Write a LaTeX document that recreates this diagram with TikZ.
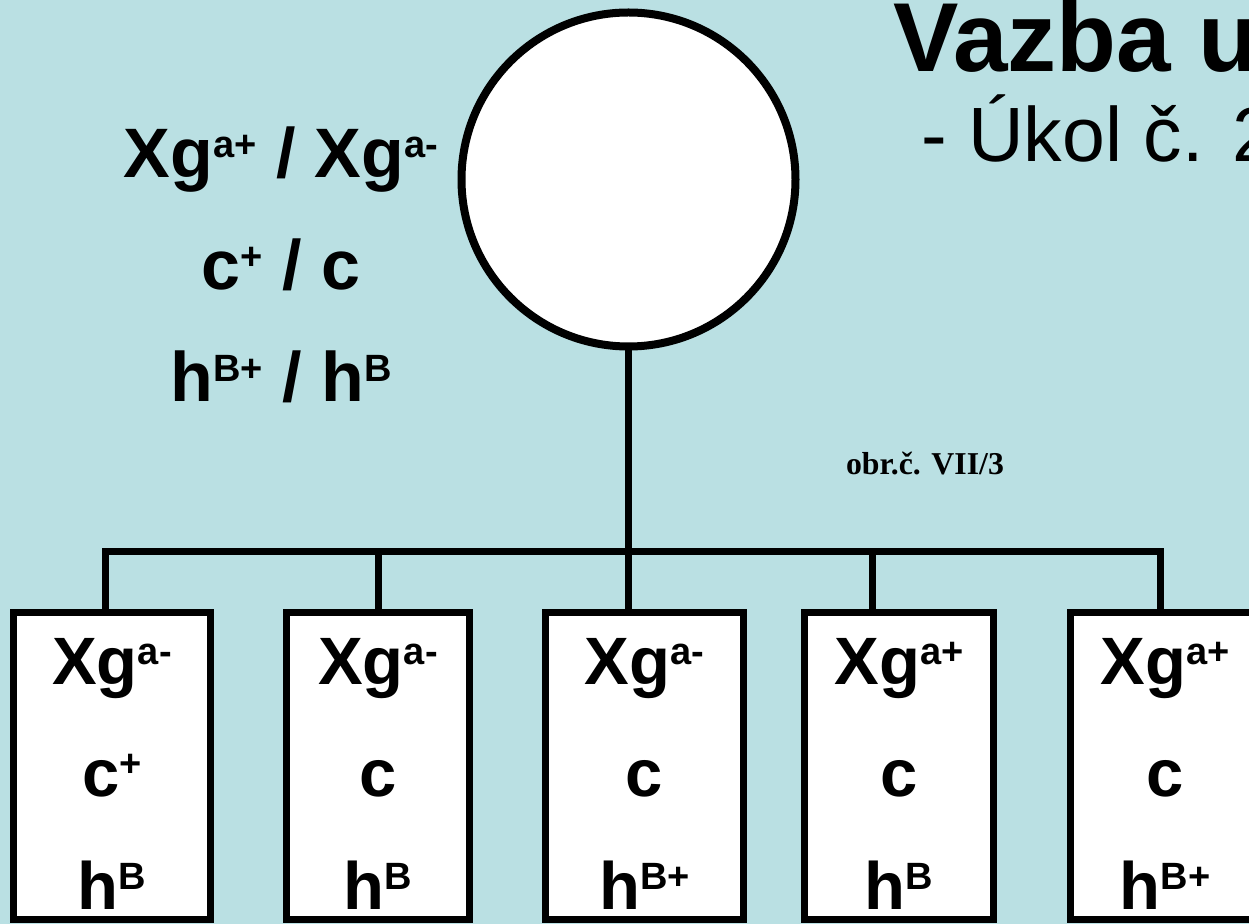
\documentclass[tikz,border=0pt]{standalone}
\usepackage{fontspec}
\setmainfont{Liberation Sans}
\newfontfamily\serifbold{Liberation Serif}
\definecolor{bgblue}{RGB}{186,224,227}
\newcommand\spx[1]{\raisebox{10pt}{\fontsize{19}{19}\selectfont\bfseries #1}}
\begin{document}
\begin{tikzpicture}[x=0.5pt,y=-0.5pt,
  gene/.style={font=\fontsize{33.5}{40}\selectfont\bfseries, anchor=base, inner sep=0pt},
  kid/.style={draw=black, line width=3.5pt, fill=white, minimum height=153.75pt, inner sep=0pt},
  wire/.style={draw=black, line width=3.5pt}]
\fill[bgblue] (0,0) rectangle (1249,924);
\useasboundingbox (0,0) rectangle (1249,924);
\clip (0,0) rectangle (1249,924);
% title
\node[anchor=base west, inner sep=0pt, font=\fontsize{49}{56}\selectfont\bfseries] (title) at (893,72) {Vazba u};
\node[anchor=base west, inner sep=0pt, font=\fontsize{38.5}{45}\selectfont] (subtitle) at (921,162) {- Úkol č. 2};
% parent
\node[circle, draw=black, line width=4pt, fill=white, minimum size=167pt, inner sep=0pt] (mother) at (628.5,179.5) {};
\node[gene, font=\fontsize{35}{40}\selectfont\bfseries] (p1) at (281,178) {Xg\spx{a+} / Xg\spx{a-}};
\node[gene, font=\fontsize{35}{40}\selectfont\bfseries] (p2) at (281,290) {c\spx{+} / c};
\node[gene, font=\fontsize{35}{40}\selectfont\bfseries] (p3) at (281,402) {h\spx{B+} / h\spx{B}};
\node[anchor=base, inner sep=0pt, font=\fontsize{15.9}{18}\selectfont\serifbold\bfseries] (fig) at (925,475) {obr.č. VII/3};
% children boxes
\node[kid, minimum width=98.5pt] (b1) at (112,766.25) {};
\node[kid, minimum width=91.5pt] (b2) at (378,766.25) {};
\node[kid, minimum width=99pt] (b3) at (644.5,766.25) {};
\node[kid, minimum width=94.5pt] (b4) at (899,766.25) {};
\node[kid, minimum width=94.5pt] (b5) at (1165,766.25) {};
% connectors
\coordinate (j1) at (105,552);
\coordinate (j2) at (378,552);
\coordinate (j3) at (628.5,552);
\coordinate (j4) at (872,552);
\coordinate (j5) at (1160,552);
\draw[wire] (mother.south) -- (j3);
\draw[wire, line cap=rect] (j1) -- (j5);
\draw[wire] (j1) -- (j1 |- b1.north);
\draw[wire] (j2) -- (j2 |- b2.north);
\draw[wire] (j3) -- (j3 |- b3.north);
\draw[wire] (j4) -- (j4 |- b4.north);
\draw[wire] (j5) -- (j5 |- b5.north);
% children texts
\node[gene] (t11) at (112,685) {Xg\spx{a-}};
\node[gene] (t12) at (112,797) {c\spx{+}};
\node[gene] (t13) at (112,910) {h\spx{B}};
\node[gene] (t21) at (378,685) {Xg\spx{a-}};
\node[gene] (t22) at (378,797) {c};
\node[gene] (t23) at (378,910) {h\spx{B}};
\node[gene] (t31) at (644.5,685) {Xg\spx{a-}};
\node[gene] (t32) at (644.5,797) {c};
\node[gene] (t33) at (644.5,910) {h\spx{B+}};
\node[gene] (t41) at (899,685) {Xg\spx{a+}};
\node[gene] (t42) at (899,797) {c};
\node[gene] (t43) at (899,910) {h\spx{B}};
\node[gene] (t51) at (1165,685) {Xg\spx{a+}};
\node[gene] (t52) at (1165,797) {c};
\node[gene] (t53) at (1165,910) {h\spx{B+}};
\end{tikzpicture}
\end{document}
